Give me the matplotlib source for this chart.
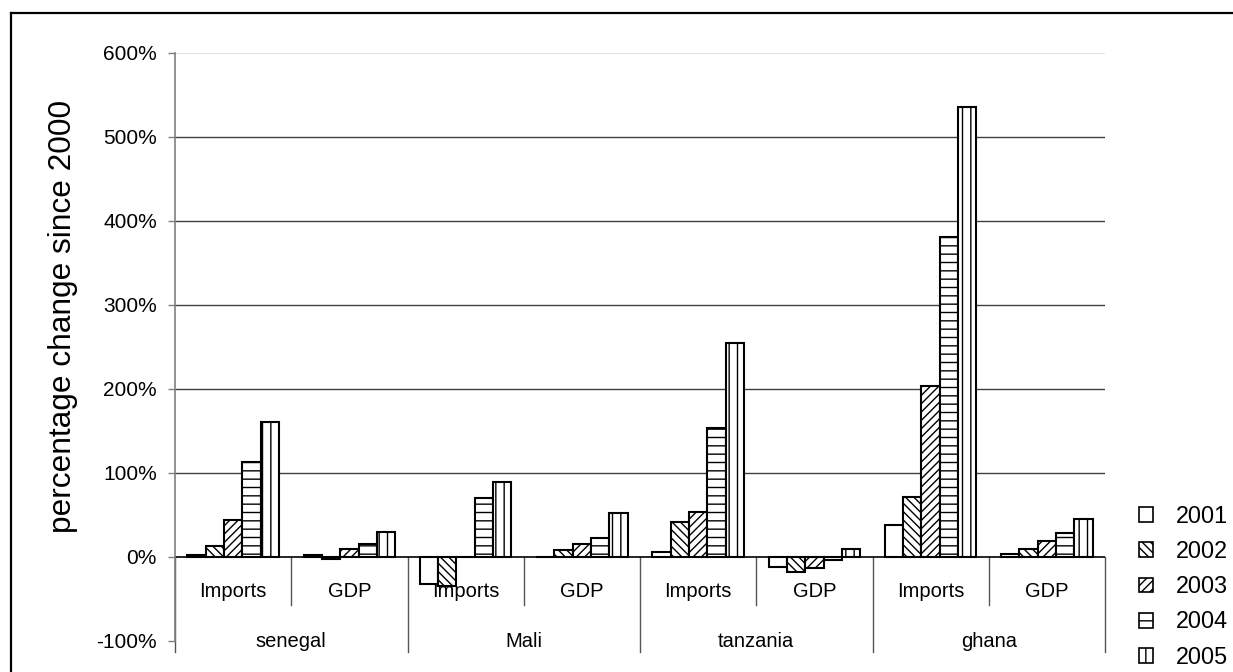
import matplotlib
matplotlib.use("Agg")
import matplotlib.pyplot as plt
from matplotlib.patches import Patch
from matplotlib.lines import Line2D

plt.rcParams['font.family'] = ['Liberation Sans', 'DejaVu Sans']
plt.rcParams['hatch.linewidth'] = 1.0

# ---------------- data ----------------
countries = ["senegal", "Mali", "tanzania", "ghana"]
measures = ["Imports", "GDP"]
years = ["2001", "2002", "2003", "2004", "2005"]
# order: senegal Imports, senegal GDP, Mali Imports, Mali GDP, tanzania Imports, tanzania GDP, ghana Imports, ghana GDP
v2001 = [2, 2, -32, 0.5, 6, -11.5, 38, 4]
v2002 = [13, -2, -35, 8, 42, -18, 71, 9.5]
v2003 = [44, 9, 0, 16, 54, -13.5, 204, 19]
v2004 = [113, 16, 70, 23, 154, -3.5, 381, 28]
v2005 = [161, 30, 89, 52, 255, 9, 536, 45]
yticks = [-100, 0, 100, 200, 300, 400, 500, 600]
ytick_labels = ["-100%", "0%", "100%", "200%", "300%", "400%", "500%", "600%"]
ylabel = "percentage change since 2000"

series = [v2001, v2002, v2003, v2004, v2005]
hatches = [None, '\\\\\\\\', '////', '--', '||']

W, H = 1233, 672
fig = plt.figure(figsize=(W / 100, H / 100), dpi=100)
ax = fig.add_axes([175 / W, (H - 641) / H, (1105 - 175) / W, (641 - 53) / H])

ncat = len(countries) * len(measures)
xs = list(range(ncat))
bw = 0.157
handles = []
for j, (vals, hatch) in enumerate(zip(series, hatches)):
    pos = [x + (j - 2) * bw for x in xs]
    ax.bar(pos, vals, width=bw, facecolor='white', edgecolor='black',
           linewidth=1.5, hatch=hatch, zorder=3)
    handles.append(Patch(facecolor='white', edgecolor='black', linewidth=1.2,
                         hatch=hatch, label=years[j]))

ax.set_xlim(-0.5, ncat - 0.5)
ax.set_ylim(-100, 600)

# gridlines
for t in yticks[2:]:
    ax.axhline(t, color='#404040' if t < 600 else '#e6e6e6', lw=1.0, zorder=0)
ax.axhline(0, color='black', lw=1.2, zorder=2.5)

for s in ['top', 'right', 'bottom']:
    ax.spines[s].set_visible(False)
ax.spines['left'].set_color('#808080')
ax.spines['left'].set_linewidth(1.2)
ax.set_xticks([])
ax.set_yticks(yticks)
ax.set_yticklabels(ytick_labels)
ax.tick_params(axis='y', direction='out', length=5, width=1.0, color='#808080',
               labelsize=15, pad=8)

# multi-level category axis
px = 700 / (641 - 53)  # data units per pixel
for k in range(ncat + 1):
    xd = k - 0.5
    depth = 95 if k % 2 == 0 else 48
    ax.plot([xd, xd], [0, -depth * px], color='#555555', lw=1.0,
            clip_on=False, zorder=1)
for i, x in enumerate(xs):
    ax.text(x, -40 * px, measures[i % 2], ha='center', va='baseline',
            fontsize=14.5, zorder=1, clip_on=False)
for c, name in enumerate(countries):
    ax.text(2 * c + 0.5, -90 * px, name, ha='center', va='baseline',
            fontsize=14.5, zorder=1, clip_on=False)

fig.text(63 / W, (H - 316.5) / H, ylabel, rotation=90, ha='center',
         va='center', fontsize=22.8)

fig.legend(handles=handles, loc='upper left',
           bbox_to_anchor=(1139 / W, (H - 505) / H), frameon=False,
           fontsize=16.8, handlelength=0.6, handleheight=0.6,
           handletextpad=1.0, labelspacing=0.52, borderpad=0, borderaxespad=0)

# outer chart border (top and left visible)
fig.add_artist(Line2D([11 / W, 11 / W], [0, (H - 13) / H], transform=fig.transFigure,
                      color='black', lw=1.6))
fig.add_artist(Line2D([11 / W, 1], [(H - 13) / H, (H - 13) / H], transform=fig.transFigure,
                      color='black', lw=1.6))

fig.savefig("out.png", dpi=100)
